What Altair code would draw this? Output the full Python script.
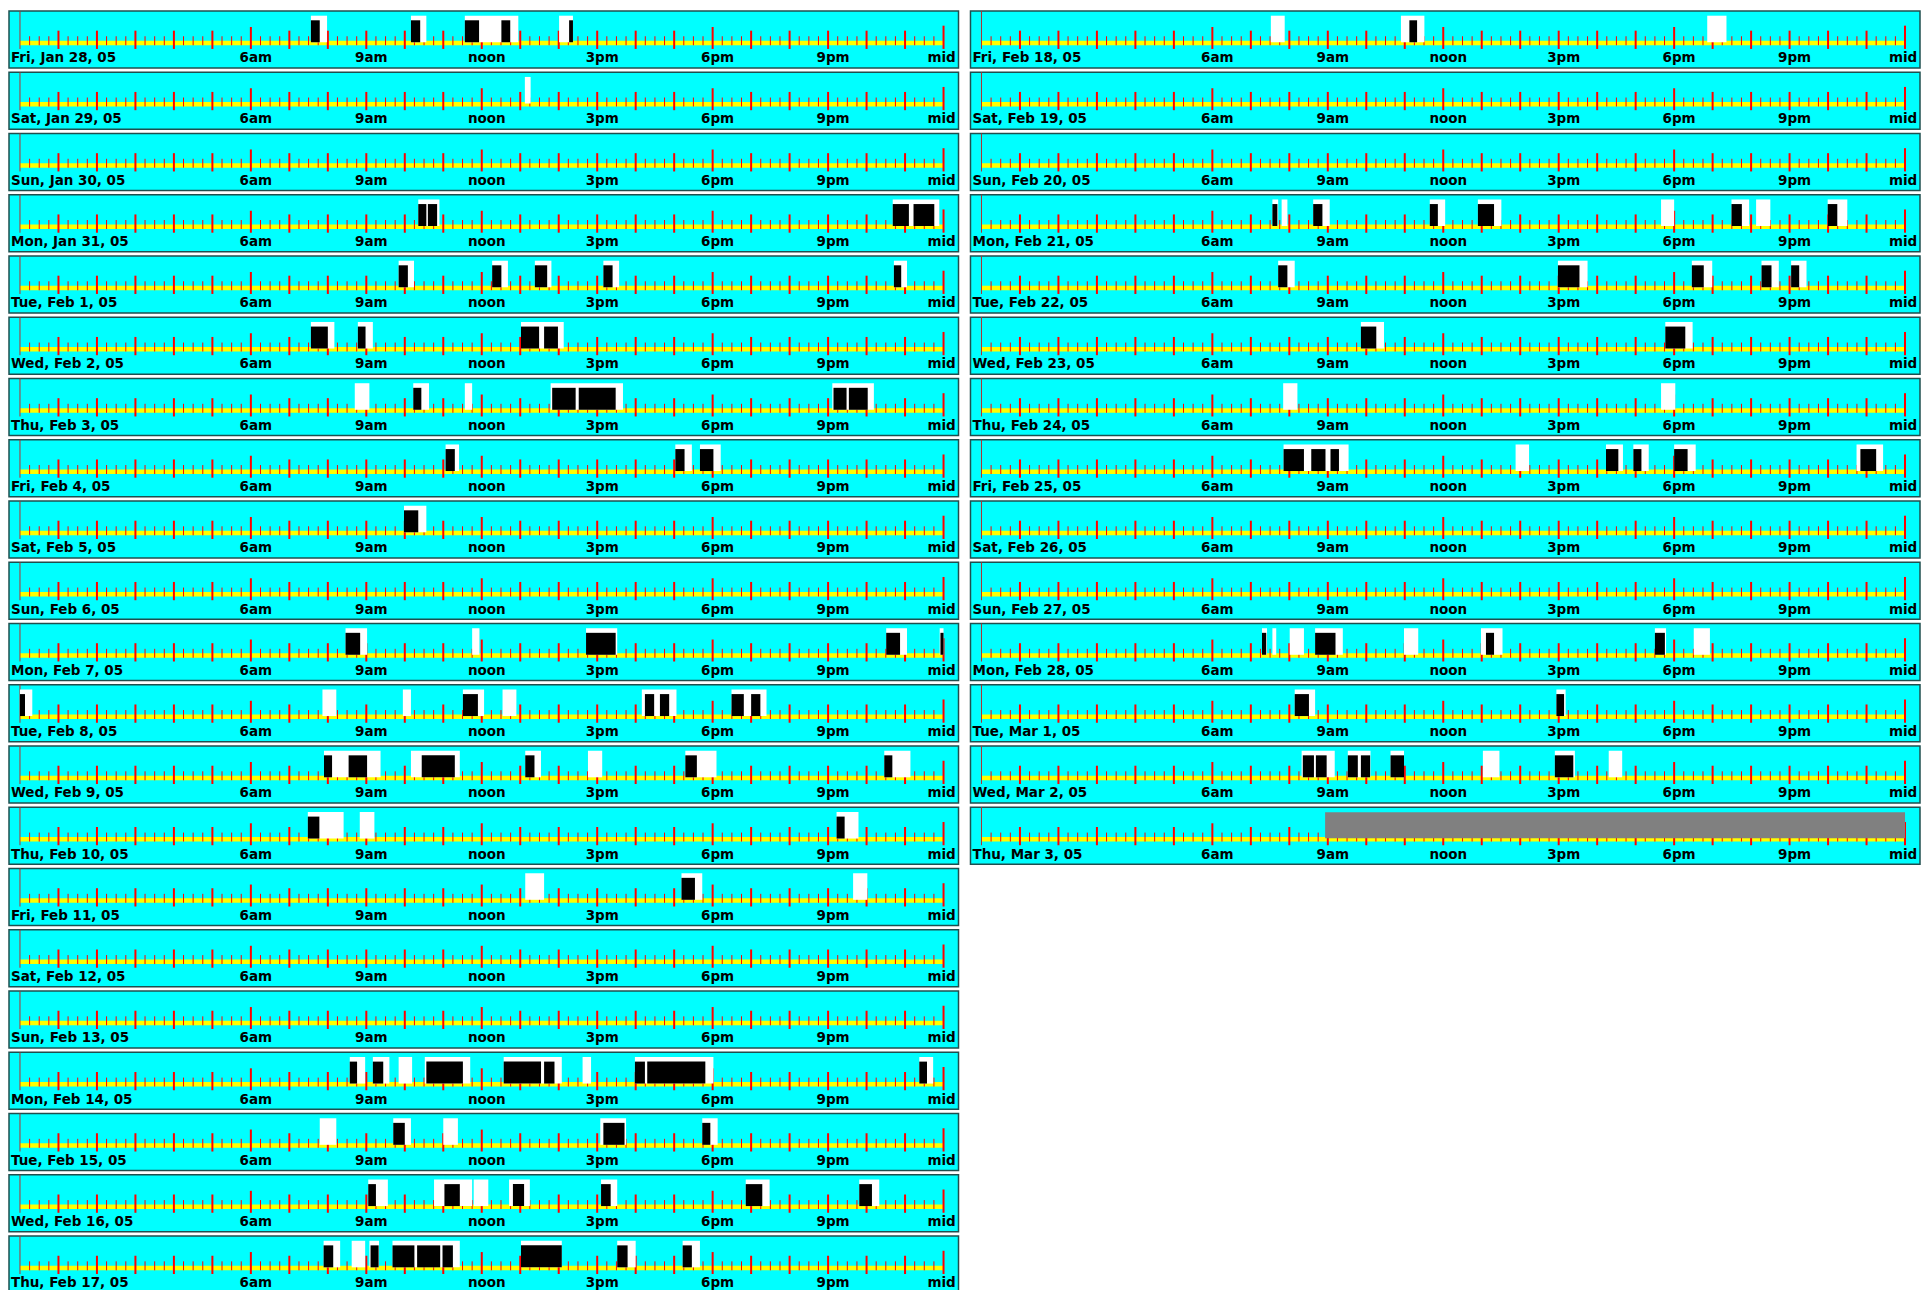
import altair as alt
import pandas as pd

left_days = [
    "Fri, Jan 28, 05", "Sat, Jan 29, 05", "Sun, Jan 30, 05", "Mon, Jan 31, 05",
    "Tue, Feb 1, 05", "Wed, Feb 2, 05", "Thu, Feb 3, 05", "Fri, Feb 4, 05",
    "Sat, Feb 5, 05", "Sun, Feb 6, 05", "Mon, Feb 7, 05", "Tue, Feb 8, 05",
    "Wed, Feb 9, 05", "Thu, Feb 10, 05", "Fri, Feb 11, 05", "Sat, Feb 12, 05",
    "Sun, Feb 13, 05", "Mon, Feb 14, 05", "Tue, Feb 15, 05", "Wed, Feb 16, 05",
    "Thu, Feb 17, 05",
]
right_days = [
    "Fri, Feb 18, 05", "Sat, Feb 19, 05", "Sun, Feb 20, 05", "Mon, Feb 21, 05",
    "Tue, Feb 22, 05", "Wed, Feb 23, 05", "Thu, Feb 24, 05", "Fri, Feb 25, 05",
    "Sat, Feb 26, 05", "Sun, Feb 27, 05", "Mon, Feb 28, 05", "Tue, Mar 1, 05",
    "Wed, Mar 2, 05", "Thu, Mar 3, 05",
]

# session intervals (hours of day) drawn in white
white = {
    "Fri, Jan 28, 05": [(7.56, 7.98), (10.16, 10.56), (11.56, 12.95), (14.01, 14.37)],
    "Sat, Jan 29, 05": [(13.12, 13.27)],
    "Mon, Jan 31, 05": [(10.35, 10.90), (22.68, 23.89)],
    "Tue, Feb 1, 05": [(9.84, 10.24), (12.27, 12.68), (13.38, 13.81), (15.16, 15.57), (22.71, 23.05)],
    "Wed, Feb 2, 05": [(7.56, 8.17), (8.78, 9.17), (13.02, 14.13)],
    "Thu, Feb 3, 05": [(8.70, 9.08), (10.22, 10.63), (11.56, 11.75), (13.79, 15.67), (21.11, 22.19)],
    "Fri, Feb 4, 05": [(11.06, 11.41), (17.03, 17.46), (17.67, 18.21)],
    "Sat, Feb 5, 05": [(9.98, 10.56)],
    "Mon, Feb 7, 05": [(8.46, 9.02), (11.75, 11.94), (14.71, 15.52), (22.51, 23.05), (23.90, 24.0)],
    "Tue, Feb 8, 05": [(0.0, 0.32), (7.86, 8.22), (9.95, 10.16), (11.51, 12.06), (12.54, 12.90),
                       (16.16, 17.06), (18.49, 19.40)],
    "Wed, Feb 9, 05": [(7.90, 9.37), (10.16, 11.43), (13.13, 13.54), (14.76, 15.13), (17.29, 18.10),
                       (22.46, 23.14)],
    "Thu, Feb 10, 05": [(7.48, 8.41), (8.83, 9.21), (21.22, 21.79)],
    "Fri, Feb 11, 05": [(13.13, 13.62), (17.19, 17.73), (21.65, 22.02)],
    "Mon, Feb 14, 05": [(8.57, 8.97), (9.17, 9.60), (9.84, 10.19), (10.52, 11.70), (12.57, 14.08),
                        (14.62, 14.84), (15.98, 18.02), (23.37, 23.73)],
    "Tue, Feb 15, 05": [(7.79, 8.22), (9.70, 10.16), (11.0, 11.38), (15.08, 15.75), (17.73, 18.13)],
    "Wed, Feb 16, 05": [(9.05, 9.56), (10.76, 11.75), (11.79, 12.17), (12.71, 13.25), (15.10, 15.52),
                        (18.86, 19.48), (21.81, 22.33)],
    "Thu, Feb 17, 05": [(7.89, 8.32), (8.62, 8.97), (9.08, 9.33), (9.68, 11.43), (13.02, 14.08),
                        (15.52, 16.0), (17.22, 17.67)],
    "Fri, Feb 18, 05": [(7.52, 7.88), (10.90, 11.51), (18.86, 19.36)],
    "Mon, Feb 21, 05": [(7.56, 7.71), (7.80, 7.95), (8.62, 9.05), (11.65, 12.05), (12.90, 13.51),
                        (17.66, 18.0), (19.49, 19.95), (20.13, 20.50), (21.99, 22.50)],
    "Tue, Feb 22, 05": [(7.71, 8.14), (14.98, 15.75), (18.46, 18.99), (20.27, 20.72), (21.04, 21.44)],
    "Wed, Feb 23, 05": [(9.86, 10.46), (17.77, 18.48)],
    "Thu, Feb 24, 05": [(7.84, 8.21), (17.66, 18.03)],
    "Fri, Feb 25, 05": [(7.85, 9.54), (13.88, 14.23), (16.23, 16.67), (16.94, 17.34), (18.0, 18.56),
                        (22.74, 23.43)],
    "Mon, Feb 28, 05": [(7.29, 7.42), (7.56, 7.66), (8.01, 8.38), (8.67, 9.39), (10.98, 11.35),
                        (12.98, 13.54), (17.50, 17.79), (18.51, 18.93)],
    "Tue, Mar 1, 05": [(8.14, 8.67), (14.94, 15.18)],
    "Wed, Mar 2, 05": [(8.32, 9.18), (9.52, 10.11), (10.63, 10.98), (13.03, 13.46), (14.90, 15.42),
                       (16.30, 16.65)],
}

# activity intervals drawn in black
black = {
    "Fri, Jan 28, 05": [(7.56, 7.79), (10.16, 10.40), (11.56, 11.93), (12.51, 12.74), (14.27, 14.37)],
    "Mon, Jan 31, 05": [(10.35, 10.56), (10.60, 10.84), (22.68, 23.10), (23.22, 23.76)],
    "Tue, Feb 1, 05": [(9.84, 10.08), (12.27, 12.51), (13.38, 13.70), (15.16, 15.40), (22.71, 22.90)],
    "Wed, Feb 2, 05": [(7.56, 8.0), (8.78, 8.98), (13.02, 13.49), (13.62, 13.98)],
    "Thu, Feb 3, 05": [(10.22, 10.43), (13.83, 14.44), (14.52, 15.48), (21.14, 21.48), (21.54, 22.03)],
    "Fri, Feb 4, 05": [(11.06, 11.30), (17.03, 17.27), (17.67, 18.02)],
    "Sat, Feb 5, 05": [(9.98, 10.35)],
    "Mon, Feb 7, 05": [(8.46, 8.84), (14.71, 15.48), (22.51, 22.87), (23.92, 24.0)],
    "Tue, Feb 8, 05": [(0.0, 0.13), (11.51, 11.90), (16.24, 16.48), (16.63, 16.87), (18.49, 18.81),
                       (19.0, 19.24)],
    "Wed, Feb 9, 05": [(7.90, 8.11), (8.54, 9.02), (10.44, 11.30), (13.13, 13.37), (17.29, 17.59),
                       (22.46, 22.67)],
    "Thu, Feb 10, 05": [(7.48, 7.78), (21.22, 21.43)],
    "Fri, Feb 11, 05": [(17.19, 17.54)],
    "Mon, Feb 14, 05": [(8.57, 8.76), (9.17, 9.44), (10.56, 11.51), (12.57, 13.54), (13.62, 13.89),
                        (15.98, 16.24), (16.30, 17.81), (23.37, 23.57)],
    "Tue, Feb 15, 05": [(9.70, 10.0), (15.16, 15.71), (17.73, 17.94)],
    "Wed, Feb 16, 05": [(9.05, 9.25), (11.03, 11.43), (12.81, 13.10), (15.10, 15.35), (18.86, 19.29),
                        (21.81, 22.14)],
    "Thu, Feb 17, 05": [(7.89, 8.14), (9.11, 9.32), (9.68, 10.25), (10.32, 10.92), (10.98, 11.25),
                        (13.02, 14.08), (15.52, 15.79), (17.22, 17.46)],
    "Fri, Feb 18, 05": [(11.12, 11.32)],
    "Mon, Feb 21, 05": [(7.56, 7.69), (8.62, 8.86), (11.65, 11.86), (12.90, 13.32), (19.49, 19.76),
                        (21.99, 22.24)],
    "Tue, Feb 22, 05": [(7.71, 7.95), (14.98, 15.54), (18.46, 18.77), (20.27, 20.53), (21.04, 21.25)],
    "Wed, Feb 23, 05": [(9.86, 10.26), (17.77, 18.29)],
    "Fri, Feb 25, 05": [(7.85, 8.38), (8.57, 8.94), (9.07, 9.29), (16.23, 16.55), (16.94, 17.15),
                        (18.0, 18.35), (22.84, 23.25)],
    "Mon, Feb 28, 05": [(7.29, 7.40), (8.67, 9.20), (13.11, 13.32), (17.50, 17.76)],
    "Tue, Mar 1, 05": [(8.14, 8.51), (14.94, 15.14)],
    "Wed, Mar 2, 05": [(8.35, 8.64), (8.69, 8.97), (9.52, 9.78), (9.86, 10.10), (10.63, 10.98),
                       (14.90, 15.38)],
}

# no data yet (grey)
gray = {
    "Thu, Mar 3, 05": [(8.93, 24.0)],
}

# axis furniture
quarter_ticks = [h + q for h in range(24) for q in (0.25, 0.5, 0.75)]
hour_ticks = [1, 2, 3, 4, 5, 7, 8, 9, 10, 11, 13, 14, 15, 16, 17, 19, 20, 21, 22, 23]
six_ticks = [6, 12, 18]
end_ticks = [24]
label_hours = [6, 9, 12, 15, 18, 21]
label_texts = ["6am", "9am", "noon", "3pm", "6pm", "9pm"]
mid_hours = [24]
mid_texts = ["mid"]

rows = []
for kind, table in (("white", white), ("black", black), ("gray", gray)):
    for day, spans in table.items():
        for s, e in spans:
            rows.append({"day": day, "kind": kind, "start": s, "end": e})
events = pd.DataFrame(rows)

band_df = pd.DataFrame({"start": [0], "end": [24]})
quarter_df = pd.DataFrame({"t": quarter_ticks})
hour_df = pd.DataFrame({"t": hour_ticks})
six_df = pd.DataFrame({"t": six_ticks})
end_df = pd.DataFrame({"t": end_ticks})
zero_df = pd.DataFrame({"t": [0]})
label_df = pd.DataFrame({"t": label_hours, "label": label_texts})
mid_df = pd.DataFrame({"t": mid_hours, "label": mid_texts})
days_df = pd.DataFrame({"day": left_days + right_days})

PX_PER_H = 925 / 24.0
X_DOMAIN = [-11 / PX_PER_H, 24 + 15 / PX_PER_H]
W, H = 951, 57
FONT = "DejaVu Sans"
FS = 13.5
TEXT_Y = 51.3


def xenc(field):
    return alt.X(f"{field}:Q", scale=alt.Scale(domain=X_DOMAIN, nice=False, zero=False), axis=None)


def panel(day):
    band = alt.Chart(band_df).mark_rect(color="#ffff00").encode(
        x=xenc("start"), x2="end", y=alt.value(29.7), y2=alt.value(34.3))
    q = alt.Chart(quarter_df).mark_rule(color="#ff0000", strokeWidth=1).encode(
        x=xenc("t"), y=alt.value(25.3), y2=alt.value(34.3))
    hr = alt.Chart(hour_df).mark_rule(color="#ff0000", strokeWidth=2).encode(
        x=xenc("t"), y=alt.value(19.7), y2=alt.value(38))
    six = alt.Chart(six_df).mark_rule(color="#ff0000", strokeWidth=2).encode(
        x=xenc("t"), y=alt.value(16), y2=alt.value(38))
    endt = alt.Chart(end_df).mark_rule(color="#ff0000", strokeWidth=2).encode(
        x=xenc("t"), y=alt.value(14.7), y2=alt.value(38))
    zero = alt.Chart(zero_df).mark_rule(color="#b03030", strokeWidth=1).encode(
        x=xenc("t"), y=alt.value(0), y2=alt.value(38))
    base = alt.Chart(events).transform_filter(alt.datum.day == day)
    w = base.transform_filter(alt.datum.kind == "white").mark_rect(color="#ffffff").encode(
        x=xenc("start"), x2="end", y=alt.value(4.7), y2=alt.value(31.3))
    b = base.transform_filter(alt.datum.kind == "black").mark_rect(color="#000000").encode(
        x=xenc("start"), x2="end", y=alt.value(9.3), y2=alt.value(31.3))
    g = base.transform_filter(alt.datum.kind == "gray").mark_rect(color="#808080").encode(
        x=xenc("start"), x2="end", y=alt.value(5), y2=alt.value(31))
    labels = alt.Chart(label_df).mark_text(
        font=FONT, fontWeight="bold", fontSize=FS, color="#000000",
        align="center", baseline="alphabetic", dx=5).encode(
        x=xenc("t"), y=alt.value(TEXT_Y), text="label:N")
    mid = alt.Chart(mid_df).mark_text(
        font=FONT, fontWeight="bold", fontSize=FS, color="#000000",
        align="center", baseline="alphabetic", dx=-2).encode(
        x=xenc("t"), y=alt.value(TEXT_Y), text="label:N")
    date = alt.Chart(days_df).transform_filter(alt.datum.day == day).mark_text(
        font=FONT, fontWeight="bold", fontSize=FS, color="#000000",
        align="left", baseline="alphabetic").encode(
        x=alt.value(2), y=alt.value(TEXT_Y), text="day:N")
    return alt.layer(band, q, hr, six, endt, zero, w, b, g, labels, mid, date).properties(
        width=W, height=H)


left = alt.vconcat(*[panel(d) for d in left_days], spacing=4.35, bounds="flush")
right = alt.vconcat(*[panel(d) for d in right_days], spacing=4.35, bounds="flush")

chart = alt.hconcat(left, right, spacing=10).properties(
    padding={"left": 0, "top": 0, "right": 0, "bottom": 0},
    background="#ffffff",
).configure_view(
    fill="#00ffff", stroke="#1f4f4f", strokeWidth=1.5
)

chart.save("out.html", embed_options={"renderer": "svg", "actions": False})
